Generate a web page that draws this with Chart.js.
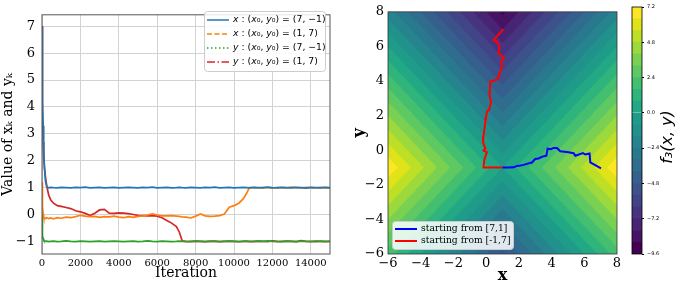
<!DOCTYPE html>
<html>
<head>
<meta charset="utf-8">
<script src="https://cdn.jsdelivr.net/npm/chart.js@4.4.0/dist/chart.umd.min.js"></script>
<style>
  html, body { margin: 0; padding: 0; background: #fff; }
  #wrap { position: relative; width: 680px; height: 285px; overflow: hidden; }
  #wrap canvas { position: absolute; top: 0; }
</style>
</head>
<body>
<div id="wrap">
  <canvas id="iterChart" width="340" height="285" style="left:0"></canvas>
  <canvas id="contourChart" width="285" height="285" style="left:340px"></canvas>
  <canvas id="barChart" width="60" height="285" style="left:620px"></canvas>
</div>
<script>
// ---- left panel: iterates vs iteration ----
const iterations = [0, 10, 20, 40, 60, 90, 130, 180, 250, 350,
  450, 600, 800, 1000, 1250, 1500, 1750, 2000, 2250, 2500,
  2750, 3000, 3250, 3500, 3750, 4000, 4250, 4500, 4750, 5000,
  5250, 5500, 5750, 6000, 6250, 6500, 6750, 7000, 7150, 7300,
  7500, 7750, 8000, 8250, 8500, 8750, 9000, 9250, 9500, 9750,
  10000, 10250, 10500, 10650, 10800, 11000, 11250, 11500, 11750, 12000,
  12250, 12500, 12750, 13000, 13250, 13500, 13750, 14000, 14250, 14500,
  14750, 15000];

// x_k, start (7,-1)
const xFromA = [7, 6.2, 5.4, 4.2, 3.3, 2.4, 1.7, 1.25, 1.02, 0.99,
  1.01, 1.0, 0.99, 1.01, 1.0, 0.99, 1.01, 1.0, 1.02, 0.99,
  1.0, 1.01, 0.99, 1.0, 1.01, 0.99, 1.0, 1.01, 1.0, 0.99,
  1.01, 1.0, 1.02, 0.99, 1.0, 1.01, 0.99, 1.0, 1.01, 1.0,
  0.99, 1.01, 1.0, 0.99, 1.01, 1.0, 1.02, 0.99, 1.0, 1.01,
  0.99, 1.0, 1.01, 1.0, 0.99, 1.01, 1.0, 0.99, 1.02, 1.0,
  0.99, 1.01, 1.0, 0.99, 1.01, 1.0, 0.98, 1.01, 1.0, 0.99,
  1.01, 1.0];
// x_k, start (1,7)
const xFromB = [1.0, 1.2, 0.8, 0.3, 0.0, -0.1, -0.13, -0.15, -0.12, -0.15,
  -0.13, -0.16, -0.12, -0.14, -0.1, -0.12, -0.08, -0.03, -0.06, -0.08,
  -0.07, -0.11, -0.08, -0.09, -0.06, -0.1, -0.12, -0.08, -0.11, -0.07,
  -0.05, -0.02, 0.02, -0.02, -0.05, -0.05, -0.04, -0.06, -0.07, -0.09,
  -0.1, -0.13, -0.06, 0.02, -0.05, -0.07, -0.06, -0.04, 0.02, 0.27,
  0.33, 0.42, 0.6, 0.78, 1.0, 1.0, 0.99, 1.01, 1.0, 0.98,
  1.01, 1.0, 0.99, 1.02, 1.0, 0.99, 1.01, 1.0, 0.99, 1.01,
  1.0, 0.98];
// y_k, start (7,-1)
const yFromA = [0.1, -0.1, -0.5, -0.8, -0.9, -0.95, -0.98, -1.0, -0.99, -1.01,
  -1.0, -0.99, -1.01, -1.0, -0.98, -1.0, -1.01, -0.99, -1.0, -1.01,
  -1.0, -0.99, -1.01, -1.0, -0.99, -1.0, -1.01, -1.0, -0.99, -1.01,
  -1.0, -0.98, -1.0, -1.01, -0.99, -1.0, -1.01, -1.0, -0.99, -1.0,
  -1.01, -1.0, -0.99, -1.0, -1.01, -0.99, -1.0, -1.01, -1.0, -0.99,
  -1.0, -1.01, -0.99, -1.0, -1.0, -1.01, -0.99, -1.0, -0.98, -1.0,
  -1.01, -1.0, -0.99, -1.0, -1.01, -0.99, -1.0, -1.0, -1.01, -0.99,
  -1.0, -1.0];
// y_k, start (1,7)
const yFromB = [7, 5.8, 4.8, 3.5, 2.7, 2.1, 1.75, 1.4, 1.05, 0.72,
  0.55, 0.42, 0.33, 0.3, 0.26, 0.22, 0.14, 0.1, 0.04, -0.04,
  0.05, 0.17, 0.19, 0.05, 0.04, 0.06, 0.05, 0.03, 0.0, -0.03,
  -0.04, -0.05, -0.04, -0.06, -0.12, -0.22, -0.32, -0.45, -0.65, -0.98,
  -1.0, -1.01, -0.99, -1.0, -1.01, -1.0, -0.99, -1.01, -1.0, -0.99,
  -1.0, -1.01, -1.0, -0.99, -1.01, -1.0, -0.99, -1.0, -1.01, -0.98,
  -1.0, -1.01, -0.99, -1.0, -1.01, -0.97, -1.0, -1.01, -0.99, -1.0,
  -1.01, -1.0];

const iterLabels = ['x : (x₀, y₀) = (7, −1)', 'x : (x₀, y₀) = (1, 7)',
  'y : (x₀, y₀) = (7, −1)', 'y : (x₀, y₀) = (1, 7)'];
const iterTicksX = [0, 2000, 4000, 6000, 8000, 10000, 12000, 14000];
const iterTicksY = [-1, 0, 1, 2, 3, 4, 5, 6, 7];

// ---- right panel: paths over contour of f3 ----
const pathAx = [7.02, 6.37, 6.32, 6.06, 5.92, 5.45, 5.35, 4.94, 4.53, 4.33,
  4.12, 3.96, 3.76, 3.68, 3.41, 3.2, 3.0, 2.8, 2.59, 2.29,
  2.09, 1.89, 1.68, 1.37, 1.0];
const pathAy = [-1.05, -0.71, -0.19, -0.25, -0.17, -0.32, -0.17, -0.1, -0.06, 0.13,
  0.13, 0.06, 0.09, -0.32, -0.38, -0.48, -0.51, -0.71, -0.76, -0.85,
  -0.89, -0.91, -0.99, -1.0, -1.0];
const pathBx = [1.05, 0.46, 0.66, 0.82, 0.76, 1.09, 0.92, 0.97, 0.86, 0.7,
  0.5, 0.25, 0.21, 0.3, 0.17, 0.05, -0.01, -0.05, -0.16, -0.19,
  -0.05, -0.16, 0.05, -0.05, -0.12, -0.16, 1.0];
const pathBy = [7.0, 6.37, 6.3, 5.96, 5.6, 5.35, 5.12, 4.82, 4.54, 4.1,
  4.03, 3.97, 3.2, 2.74, 2.32, 2.25, 1.89, 1.6, 0.85, 0.47,
  0.09, -0.02, -0.12, -0.38, -0.6, -1.0, -1.0];
const pathLabels = ['starting from [7,1]', 'starting from [-1,7]'];
const planeTicks = [-6, -4, -2, 0, 2, 4, 6, 8];

// contour levels and colorbar ticks
const levels = [-9.6, -8.8, -8.0, -7.2, -6.4, -5.6, -4.8, -4.0, -3.2, -2.4, -1.6,
  -0.8, 0.0, 0.8, 1.6, 2.4, 3.2, 4.0, 4.8, 5.6, 6.4, 7.2];
const cbarTicks = [-9.6, -7.2, -4.8, -2.4, 0.0, 2.4, 4.8, 7.2];
const viridis = ['#440154', '#471365', '#482475', '#463480', '#414487', '#3b528b',
  '#355f8d', '#2f6c8e', '#2a788e', '#25848e', '#21918c', '#1e9c89', '#22a884',
  '#2fb47c', '#44bf70', '#5ec962', '#7ad151', '#9bd93c', '#bddf26', '#dfe318', '#fde725'];

// the plotted surface
function f3(x, y) { return Math.abs(x - 1) - Math.abs(y + 1); }

function pairs(xs, ys) { return xs.map((x, i) => ({ x: x, y: ys[i] })); }
function minus(v) { return String(v).replace('-', '\u2212'); }

Chart.defaults.font.family = 'DejaVu Serif';
Chart.defaults.color = '#000';

// ---------- left chart ----------
const frame = {
  id: 'frame',
  afterDatasetsDraw(chart, args, opts) {
    const { ctx, chartArea: a } = chart;
    ctx.save();
    ctx.strokeStyle = opts.color || '#555';
    ctx.lineWidth = opts.width || 1;
    ctx.strokeRect(a.left, a.top, a.right - a.left, a.bottom - a.top);
    ctx.restore();
  }
};

function legendBox(ctx, x, y, w, h) {
  ctx.save();
  ctx.beginPath();
  ctx.roundRect(x + 0.5, y + 0.5, w, h, 3);
  ctx.fillStyle = 'rgba(255,255,255,0.85)';
  ctx.fill();
  ctx.strokeStyle = '#cccccc';
  ctx.lineWidth = 1;
  ctx.stroke();
  ctx.restore();
}

const iterLegend = {
  id: 'iterLegend',
  afterDraw(chart) {
    const ctx = chart.ctx;
    const dashes = [[], [5, 2.5], [1.5, 2.5], [8, 2.5, 1.5, 2.5]];
    const rows = [20, 34, 48, 62];
    legendBox(ctx, 204, 11, 121, 60);
    chart.data.datasets.forEach((ds, i) => {
      ctx.save();
      ctx.strokeStyle = ds.borderColor;
      ctx.lineWidth = 1.5;
      ctx.setLineDash(dashes[i]);
      ctx.beginPath();
      ctx.moveTo(207, rows[i]);
      ctx.lineTo(229, rows[i]);
      ctx.stroke();
      ctx.restore();
      // letters italic, the rest upright
      ctx.save();
      ctx.fillStyle = '#000';
      ctx.textBaseline = 'middle';
      let tx = 233;
      for (const ch of ds.label) {
        ctx.font = (/[a-z]/i.test(ch) ? 'italic ' : '') + '9.3px "DejaVu Sans"';
        ctx.fillText(ch, tx, rows[i]);
        tx += ctx.measureText(ch).width;
      }
      ctx.restore();
    });
  }
};

const lineColors = ['#1f77b4', '#ff7f0e', '#2ca02c', '#d62728'];
const iterSeries = [xFromA, xFromB, yFromA, yFromB];

new Chart(document.getElementById('iterChart'), {
  type: 'line',
  data: {
    datasets: iterSeries.map((vals, i) => ({
      label: iterLabels[i],
      data: pairs(iterations, vals),
      borderColor: lineColors[i],
      borderWidth: 1.7,
      pointRadius: 0,
      tension: 0
    }))
  },
  options: {
    responsive: false,
    animation: false,
    layout: { padding: { top: 7, right: 10, left: 0, bottom: 0 } },
    plugins: { legend: { display: false }, tooltip: { enabled: false }, frame: { color: '#555' } },
    scales: {
      x: {
        type: 'linear', min: 0, max: 15000,
        afterBuildTicks: s => { s.ticks = iterTicksX.map(v => ({ value: v })); },
        afterFit: s => { s.height = 31; },
        grid: { color: '#d3d3d3', drawTicks: false },
        border: { display: false },
        ticks: { font: { size: 10 }, padding: 3, maxRotation: 0, callback: v => String(v) },
        title: { display: true, text: 'Iteration', font: { size: 14 }, padding: { top: 0, bottom: 3 } }
      },
      y: {
        type: 'linear', min: -1.47, max: 7.43,
        afterBuildTicks: s => { s.ticks = iterTicksY.map(v => ({ value: v })); },
        afterFit: s => { s.width = 42; },
        grid: { color: '#d3d3d3', drawTicks: false },
        border: { display: false },
        ticks: { font: { size: 13 }, padding: 7, callback: v => minus(v) },
        title: { display: true, text: 'Value of xₖ and yₖ', font: { size: 14 }, padding: { top: 0, bottom: 0 } }
      }
    }
  },
  plugins: [frame, iterLegend]
});

// ---------- contour chart ----------
const viridisRgb = viridis.map(h => [parseInt(h.slice(1, 3), 16), parseInt(h.slice(3, 5), 16), parseInt(h.slice(5, 7), 16)]);
function bandOf(v) {
  for (let k = 0; k < levels.length - 2; k++) if (v < levels[k + 1]) return k;
  return levels.length - 2;
}

const contourFill = {
  id: 'contourFill',
  beforeDatasetsDraw(chart) {
    const { ctx, chartArea: a, scales } = chart;
    const w = Math.round(a.right - a.left), h = Math.round(a.bottom - a.top);
    const off = document.createElement('canvas');
    off.width = w; off.height = h;
    const octx = off.getContext('2d');
    const img = octx.createImageData(w, h);
    const sub = [0.25, 0.75];
    for (let j = 0; j < h; j++) {
      for (let i = 0; i < w; i++) {
        let r = 0, g = 0, b = 0;
        for (const dy of sub) {
          const yv = scales.y.getValueForPixel(a.top + j + dy);
          for (const dx of sub) {
            const xv = scales.x.getValueForPixel(a.left + i + dx);
            const c = viridisRgb[bandOf(f3(xv, yv))];
            r += c[0]; g += c[1]; b += c[2];
          }
        }
        const p = (j * w + i) * 4;
        img.data[p] = r / 4; img.data[p + 1] = g / 4; img.data[p + 2] = b / 4; img.data[p + 3] = 255;
      }
    }
    octx.putImageData(img, 0, 0);
    ctx.drawImage(off, a.left, a.top, w, h);
  }
};

const pathLegend = {
  id: 'pathLegend',
  afterDraw(chart) {
    const ctx = chart.ctx;
    const rows = [229, 241];
    legendBox(ctx, 52, 221, 121, 28);
    chart.data.datasets.forEach((ds, i) => {
      ctx.save();
      ctx.strokeStyle = ds.borderColor;
      ctx.lineWidth = 2;
      ctx.beginPath();
      ctx.moveTo(55, rows[i]);
      ctx.lineTo(77, rows[i]);
      ctx.stroke();
      ctx.fillStyle = '#000';
      ctx.font = '9.2px "DejaVu Serif"';
      ctx.textBaseline = 'middle';
      ctx.fillText(ds.label, 81, rows[i]);
      ctx.restore();
    });
  }
};

const pathColors = ['#0000ff', '#ff0000'];
new Chart(document.getElementById('contourChart'), {
  type: 'line',
  data: {
    datasets: [pairs(pathAx, pathAy), pairs(pathBx, pathBy)].map((pts, i) => ({
      label: pathLabels[i],
      data: pts,
      borderColor: pathColors[i],
      borderWidth: 2,
      pointRadius: 0,
      tension: 0
    }))
  },
  options: {
    responsive: false,
    animation: false,
    layout: { padding: { top: 7, right: 8, left: 0, bottom: 0 } },
    plugins: { legend: { display: false }, tooltip: { enabled: false }, frame: { color: '#333', width: 0.8 } },
    scales: {
      x: {
        type: 'linear', min: -6, max: 8,
        afterBuildTicks: s => { s.ticks = planeTicks.map(v => ({ value: v })); },
        afterFit: s => { s.height = 31; },
        grid: { display: false, drawTicks: false },
        border: { display: false },
        ticks: { font: { size: 13 }, padding: 2, maxRotation: 0, callback: v => minus(v) },
        title: { display: true, text: 'x', font: { size: 16, weight: 'bold' }, padding: { top: 0, bottom: 0 } }
      },
      y: {
        type: 'linear', min: -6, max: 8,
        afterBuildTicks: s => { s.ticks = planeTicks.map(v => ({ value: v })); },
        afterFit: s => { s.width = 48; },
        grid: { display: false, drawTicks: false },
        border: { display: false },
        ticks: { font: { size: 13 }, padding: 4, callback: v => minus(v) },
        title: { display: true, text: 'y', font: { size: 16, weight: 'bold' }, padding: { top: 10, bottom: 0 } }
      }
    }
  },
  plugins: [contourFill, frame, pathLegend]
});

// ---------- colorbar ----------
const cbarLabel = {
  id: 'cbarLabel',
  afterDraw(chart) {
    const ctx = chart.ctx;
    ctx.save();
    ctx.translate(48, 137);
    ctx.rotate(-Math.PI / 2);
    ctx.font = 'italic 16px "DejaVu Sans"';
    ctx.fillStyle = '#000';
    ctx.textAlign = 'center';
    ctx.textBaseline = 'middle';
    ctx.fillText('f₃(x, y)', 0, 0);
    ctx.restore();
  }
};

new Chart(document.getElementById('barChart'), {
  type: 'bar',
  data: {
    labels: [''],
    datasets: levels.slice(0, -1).map((lo, i) => ({
      data: [[lo, levels[i + 1]]],
      backgroundColor: viridis[i],
      borderWidth: 0,
      grouped: false,
      barPercentage: 1,
      categoryPercentage: 1
    }))
  },
  options: {
    responsive: false,
    animation: false,
    layout: { padding: { top: 7, right: 0, left: 12, bottom: 31 } },
    plugins: { legend: { display: false }, tooltip: { enabled: false }, frame: { color: '#000', width: 0.8 } },
    scales: {
      x: { display: false },
      y: {
        position: 'right', min: -9.6, max: 7.2,
        afterBuildTicks: s => { s.ticks = cbarTicks.map(v => ({ value: v })); },
        afterFit: s => { s.width = 38; },
        grid: { drawOnChartArea: false, drawTicks: true, tickLength: 2, color: '#000' },
        border: { display: false },
        ticks: { font: { size: 5, family: 'DejaVu Sans' }, padding: 3, callback: v => minus(v.toFixed(1)) }
      }
    }
  },
  plugins: [frame, cbarLabel]
});
</script>
</body>
</html>
